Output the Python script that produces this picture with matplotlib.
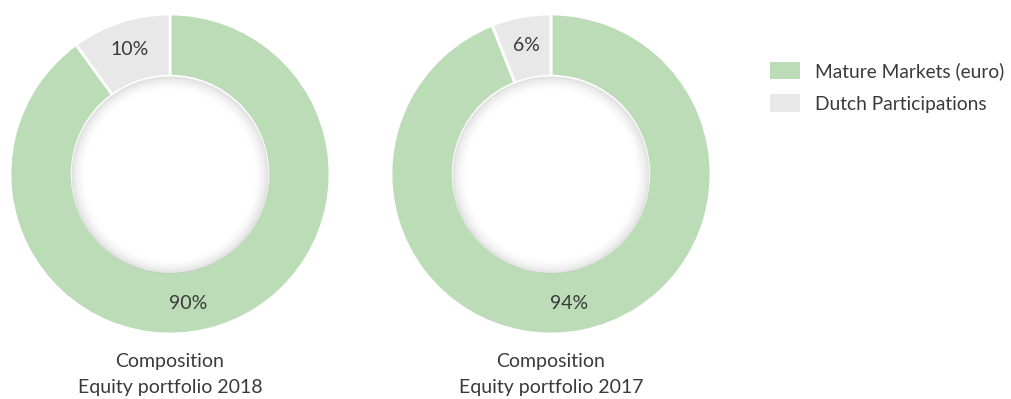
import numpy as np
import matplotlib.pyplot as plt
from matplotlib.patches import Wedge, Patch

plt.rcParams['font.family'] = ['Lato', 'DejaVu Sans']

# composition per year
years = ['2018', '2017']
categories = ['Mature Markets (euro)', 'Dutch Participations']
shares = {
    '2018': [90, 10],
    '2017': [94, 6],
}
colors = ['#bcdcb8', '#e8e8e8']
text_color = '#3a3a3a'
fs = 14

fig = plt.figure(figsize=(10.12, 3.99), dpi=100)
ax = fig.add_axes([0, 0, 1, 1])

centers = [(170, 225), (551, 225)]
r_out, r_in = 160, 97

for year, (cx, cy) in zip(years, centers):
    wedges, texts, autotexts = ax.pie(
        shares[year], colors=colors, center=(cx, cy), radius=r_out,
        startangle=90, counterclock=False,
        wedgeprops=dict(width=r_out - r_in, edgecolor='white', linewidth=2),
        autopct='%d%%', pctdistance=0.82,
        textprops=dict(color=text_color, fontsize=fs))
    # move the big-share label down to the bottom of the ring
    ang = np.deg2rad(-82)
    autotexts[0].set_position((cx + 131 * np.cos(ang), cy + 131 * np.sin(ang)))

    # hole with a soft inner shadow running up to the ring
    ax.add_patch(plt.Circle((cx, cy), r_in + 1.5, color='white', zorder=3))
    for k in range(16):
        a = 0.12 * (1 - k / 16) ** 2
        ax.add_patch(Wedge((cx, cy - 1), r_in + 1.5 - k, 0, 360, width=1.0,
                           facecolor='black', edgecolor='none', alpha=a, zorder=4))

    ax.text(cx, 399 - 361, 'Composition', ha='center', va='center',
            color=text_color, fontsize=fs)
    ax.text(cx, 399 - 387, 'Equity portfolio ' + year, ha='center', va='center',
            color=text_color, fontsize=fs)

ax.set_xlim(0, 1012)
ax.set_ylim(0, 399)
ax.set_aspect('equal')
ax.axis('off')

handles = [Patch(facecolor=c, edgecolor='none') for c in colors]
fig.legend(handles, categories, loc='upper left', bbox_to_anchor=(0.761, 0.845),
           frameon=False, fontsize=13.8, labelcolor=text_color, borderpad=0,
           borderaxespad=0, handlelength=1.55, handleheight=1.0,
           handletextpad=0.8, labelspacing=0.75)

fig.savefig('out.png', dpi=100)
